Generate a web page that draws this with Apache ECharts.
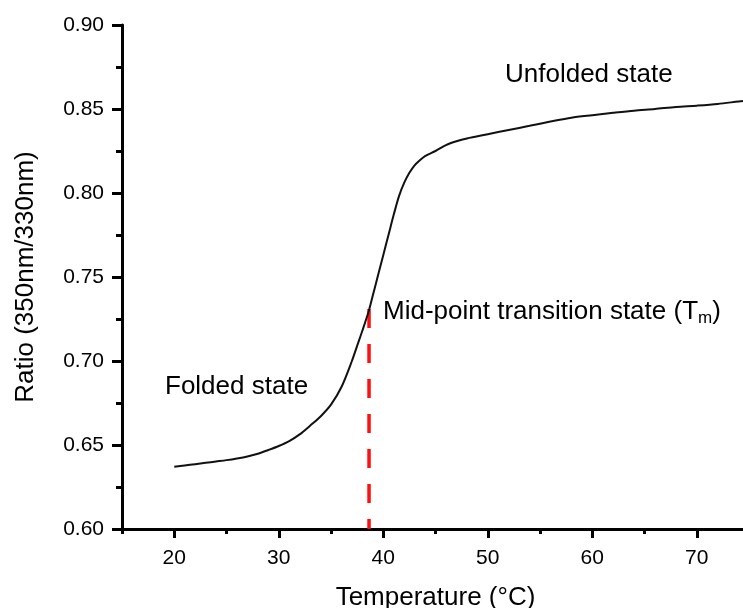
<!DOCTYPE html>
<html>
<head>
<meta charset="utf-8">
<script src="https://cdn.jsdelivr.net/npm/echarts@6/dist/echarts.min.js"></script>
<style>
  html, body { margin: 0; padding: 0; background: #fff; }
  #chart { width: 743px; height: 608px; }
</style>
</head>
<body>
<div id="chart"></div>
<script>
// Melting curve: temperature (°C) → ratio 350nm/330nm
const temps = [20, 21, 22, 23, 24, 25, 26, 27, 28, 29, 30, 31, 32, 33, 34, 35, 36, 37, 37.5, 38, 38.6,
    39, 39.5, 40, 40.5, 41, 41.5, 42, 42.5, 43, 43.5, 44, 45, 46, 47, 48, 50, 52, 54, 56, 58, 60,
    62, 64, 66, 68, 70, 72, 74, 75];
const ratios = [0.637, 0.6378, 0.6386, 0.6394, 0.6402, 0.641, 0.642, 0.6432, 0.6448, 0.647, 0.6494,
    0.6523, 0.6563, 0.6615, 0.667, 0.674, 0.6845, 0.7, 0.709, 0.718, 0.7295,
    0.739, 0.751, 0.763, 0.775, 0.787, 0.798, 0.806, 0.812, 0.8165, 0.8195, 0.822, 0.825, 0.8285,
    0.8308, 0.8325, 0.835, 0.8375, 0.840, 0.8425, 0.8448, 0.8463, 0.8477, 0.849, 0.850, 0.8512,
    0.852, 0.853, 0.8545, 0.8552];

// Mid-point (Tm) marker
const tm = 38.64;
const tmTop = 0.731;

const xMajor = [20, 30, 40, 50, 60, 70];
const xMinor = [15, 25, 35, 45, 55, 65, 75];

const FONT = "'Liberation Sans', Arial, sans-serif";

const chart = echarts.init(document.getElementById('chart'));

const axisLine = { show: true, onZero: false, lineStyle: { color: '#000', width: 3 } };

chart.setOption({
    animation: false,
    backgroundColor: '#fff',
    grid: { left: 122, right: -6, top: 25, bottom: 79, containLabel: false, outerBoundsMode: 'none' },
    xAxis: [
        {
            type: 'value', min: 15, max: 75, interval: 5,
            position: 'bottom',
            axisLine,
            axisTick: { show: true, customValues: xMinor, length: 5, lineStyle: { color: '#000', width: 3 } },
            axisLabel: { show: false },
            splitLine: { show: false },
            name: 'Temperature (°C)', nameLocation: 'middle', nameGap: 56,
            nameTextStyle: { fontFamily: FONT, fontSize: 26, color: '#000' },
        },
        {
            type: 'value', min: 15, max: 75, interval: 5,
            position: 'bottom',
            axisLine: { show: false },
            axisTick: { show: true, customValues: xMajor, length: 9, lineStyle: { color: '#000', width: 3 } },
            axisLabel: { show: true, customValues: xMajor, margin: 19, fontFamily: FONT, fontSize: 21, color: '#000' },
            splitLine: { show: false },
        },
    ],
    yAxis: {
        type: 'value', min: 0.6, max: 0.9, interval: 0.05,
        axisLine,
        axisTick: { show: true, length: 10, lineStyle: { color: '#000', width: 3 } },
        minorTick: { show: true, splitNumber: 2, length: 6, lineStyle: { color: '#000', width: 3 } },
        axisLabel: {
            margin: 18, fontFamily: FONT, fontSize: 21, color: '#000',
            formatter: v => v.toFixed(2),
        },
        splitLine: { show: false },
        name: 'Ratio (350nm/330nm)', nameLocation: 'middle', nameGap: 83, nameRotate: 90,
        nameTextStyle: { fontFamily: FONT, fontSize: 26, color: '#000' },
    },
    series: [
        {
            type: 'line',
            data: temps.map((t, i) => [t, ratios[i]]),
            showSymbol: false,
            smooth: 0.3,
            lineStyle: { color: '#111', width: 2 },
        },
        {
            type: 'line',
            data: [[tm, tmTop], [tm, 0.6]],
            showSymbol: false,
            lineStyle: { color: '#ff0f0f', width: 3.5, type: [19, 16] },
            z: 1,
        },
    ],
    graphic: [
        {
            type: 'text', left: 505, top: 62,
            style: { text: 'Unfolded state', font: `26px ${FONT}`, fill: '#000' },
        },
        {
            type: 'text', left: 165, top: 374,
            style: { text: 'Folded state', font: `26px ${FONT}`, fill: '#000' },
        },
        {
            type: 'text', left: 383, top: 299,
            style: {
                text: '{a|Mid-point transition state (T}{s|m}{a|)}',
                rich: {
                    a: { fontFamily: FONT, fontSize: 26, lineHeight: 30, fill: '#000', verticalAlign: 'middle' },
                    s: { fontFamily: FONT, fontSize: 17, lineHeight: 30, fill: '#000', verticalAlign: 'bottom' },
                },
            },
        },
    ],
});
</script>
</body>
</html>
